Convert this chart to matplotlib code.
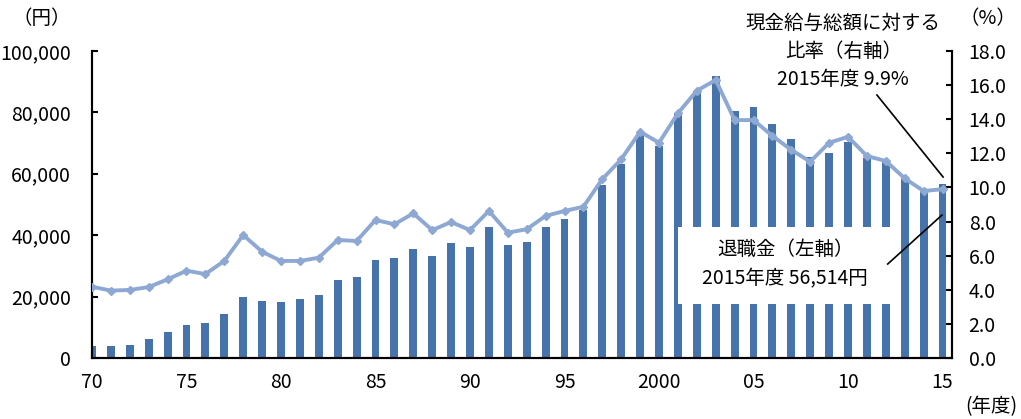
import matplotlib.pyplot as plt
import numpy as np
from matplotlib.patches import Rectangle

plt.rcParams['font.family'] = ['Noto Sans CJK JP', 'DejaVu Sans']

years = np.arange(1970, 2016)
# 退職金 (円, 左軸)
retire = [3800, 3800, 4300, 6100, 8500, 10900, 11500, 14400, 19900, 18700,
          18100, 19300, 20400, 25400, 26500, 31900, 32500, 35500, 33100, 37400,
          36200, 42700, 36700, 37900, 42700, 45200, 48200, 56500, 63100, 72500,
          69200, 79700, 86700, 91900, 80500, 81600, 76300, 71400, 65400, 66700,
          70300, 65000, 64500, 58500, 54200, 56514]
# 現金給与総額に対する比率 (%, 右軸)
ratio = [4.18, 3.95, 3.99, 4.16, 4.61, 5.12, 4.92, 5.69, 7.21, 6.23,
         5.69, 5.69, 5.88, 6.92, 6.86, 8.09, 7.84, 8.48, 7.50, 7.97,
         7.50, 8.62, 7.35, 7.55, 8.33, 8.62, 8.87, 10.49, 11.65, 13.27,
         12.62, 14.35, 15.67, 16.30, 13.95, 13.95, 13.02, 12.20, 11.51, 12.62,
         12.97, 11.84, 11.55, 10.53, 9.79, 9.9]

xticks = [1970, 1975, 1980, 1985, 1990, 1995, 2000, 2005, 2010, 2015]
xticklabels = ['70', '75', '80', '85', '90', '95', '2000', '05', '10', '15']

fig = plt.figure(figsize=(10.21, 4.19), dpi=100)
ax = fig.add_axes([0.0901, 0.1456, 0.8423, 0.7327])
ax2 = ax.twinx()

ax.bar(years, retire, width=0.42, color='#4674AA', zorder=2)
ax2.plot(years, ratio, color='#8EA8D4', lw=2.8, marker='D', ms=4.5,
         mfc='#8EA8D4', mec='#8EA8D4', zorder=3)

ax.set_xlim(1970, 2015.5)
ax.set_ylim(0, 100000)
ax2.set_ylim(0, 18)
ax.set_yticks(np.arange(0, 100001, 20000))
ax.set_yticklabels([f'{v:,}' for v in range(0, 100001, 20000)])
ax2.set_yticks(np.arange(0, 18.01, 2))
ax2.set_yticklabels([f'{v:.1f}' for v in np.arange(0, 18.01, 2)])
ax.set_xticks(xticks)
ax.set_xticklabels(xticklabels)

for a in (ax, ax2):
    a.tick_params(direction='in', length=4, width=1.5, labelsize=14, colors='black')
    for s in a.spines.values():
        s.set_linewidth(1.5)
    a.spines['top'].set_visible(False)
ax.tick_params(axis='y', pad=15)
ax2.tick_params(axis='y', pad=12)
ax.tick_params(axis='x', pad=10)

fig.text(0.012, 0.955, '（円）', fontsize=14, ha='left', va='center')
fig.text(0.968, 0.955, '（%）', fontsize=14, ha='center', va='center')
fig.text(0.996, 0.03, '(年度)', fontsize=14, ha='right', va='center')

fig.text(0.826, 0.877, '現金給与総額に対する\n比率（右軸）\n2015年度 9.9%',
         fontsize=14, ha='center', va='center', linespacing=1.45)
ax2.plot([2011.53, 2015.03], [15.42, 10.61], color='black', lw=1.2)

ax2.add_patch(Rectangle((0.681, 0.176), 0.248, 0.251, transform=ax2.transAxes,
                        fc='white', ec='none', zorder=5))
ax2.text(0.806, 0.305, '退職金（左軸）\n2015年度 56,514円', fontsize=14,
         transform=ax2.transAxes, ha='center', va='center', linespacing=1.55,
         zorder=6)
ax2.plot([2012.1, 2014.97], [5.51, 8.38], color='black', lw=1.2, zorder=6)

fig.savefig('out.png', dpi=100)
